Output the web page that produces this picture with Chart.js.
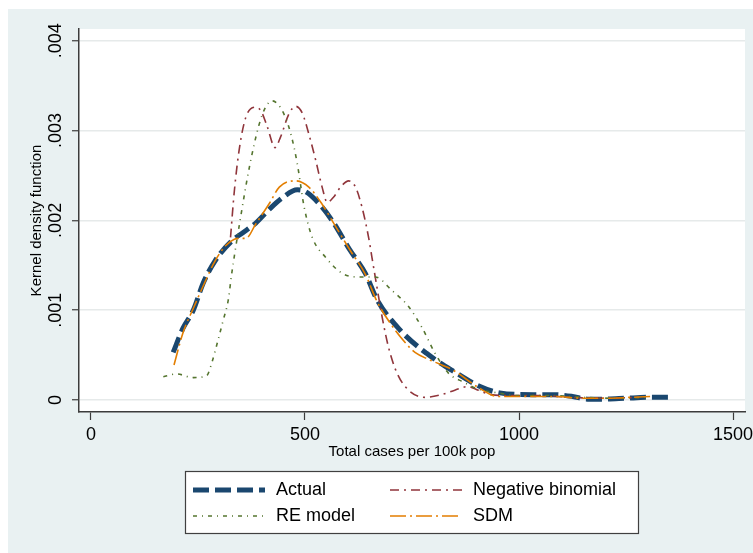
<!DOCTYPE html>
<html>
<head>
<meta charset="utf-8">
<script src="https://cdn.jsdelivr.net/npm/chart.js@4.4.0/dist/chart.umd.min.js"></script>
<style>
  html, body { margin: 0; padding: 0; background: #ffffff; }
  #kde { display: block; }
</style>
</head>
<body>
<canvas id="kde" width="753" height="553"></canvas>
<script>
// kernel density curves (x = total cases per 100k pop)
const actualX = [192, 215, 239, 262, 290, 331, 354, 385, 416, 447, 482, 501, 532, 563, 605, 641, 668, 722, 784, 847, 909, 955, 1033, 1080, 1125, 1160, 1200, 1250, 1300, 1348];
const actualY = [0.00053, 0.00080, 0.00100, 0.00130, 0.00155, 0.00178, 0.00186, 0.00197, 0.00212, 0.00225, 0.00234, 0.00232, 0.00219, 0.00200, 0.00167, 0.00141, 0.00112, 0.00078, 0.00052, 0.00032, 0.00015, 0.00008, 0.00006, 0.00006, 0.00004, 0.00001, 0.00001, 0.00002, 0.00003, 0.00003];

const negbinX = [326, 335, 347, 362, 384, 397, 412, 430, 443, 463, 478, 494, 509, 525, 540, 552, 567, 583, 602, 618, 633, 649, 656, 668, 680, 695, 715, 742, 781, 819, 850, 881, 905, 935, 980, 1050, 1120, 1200, 1280];
const negbinY = [0.00181, 0.00233, 0.00281, 0.00315, 0.00326, 0.00322, 0.00304, 0.00281, 0.00293, 0.00319, 0.00327, 0.00319, 0.00296, 0.00267, 0.00237, 0.00220, 0.00226, 0.00237, 0.00244, 0.00237, 0.00215, 0.00180, 0.00160, 0.00126, 0.00093, 0.00059, 0.00030, 0.00011, 0.00003, 0.00006, 0.00011, 0.00015, 0.00011, 0.00006, 0.00005, 0.00005, 0.00003, 0.00002, 0.00003];

const reX = [169, 200, 239, 270, 282, 297, 309, 321, 328, 347, 370, 393, 408, 423, 447, 467, 482, 498, 517, 548, 587, 626, 664, 703, 742, 773, 804, 835, 870, 906, 950, 1000, 1080, 1150, 1220, 1300];
const reY = [0.00026, 0.00029, 0.00025, 0.00027, 0.00041, 0.00067, 0.00089, 0.00112, 0.00138, 0.00196, 0.00259, 0.00307, 0.00326, 0.00333, 0.00322, 0.00296, 0.00263, 0.00215, 0.00181, 0.00159, 0.00141, 0.00137, 0.00137, 0.00122, 0.00104, 0.00081, 0.00052, 0.00030, 0.00020, 0.00012, 0.00008, 0.00005, 0.00005, 0.00003, 0.00002, 0.00003];

const sdmX = [194, 215, 240, 265, 290, 315, 335, 350, 362, 385, 417, 440, 478, 509, 540, 563, 605, 641, 668, 700, 734, 757, 790, 847, 905, 951, 1000, 1080, 1150, 1200, 1260, 1310];
const sdmY = [0.00039, 0.00075, 0.00103, 0.00130, 0.00155, 0.00172, 0.00179, 0.00180, 0.00180, 0.00196, 0.00219, 0.00237, 0.00244, 0.00237, 0.00218, 0.00200, 0.00167, 0.00140, 0.00110, 0.00085, 0.00064, 0.00053, 0.00045, 0.00033, 0.00014, 0.00004, 0.00004, 0.00004, 0.00002, 0.00002, 0.00003, 0.00004];

const xTicks = [0, 500, 1000, 1500];
const xTickLabels = ["0", "500", "1000", "1500"];
const yTicks = [0, 0.001, 0.002, 0.003, 0.004];
const yTickLabels = ["0", ".001", ".002", ".003", ".004"];

const FONT = "'Liberation Sans', Arial, sans-serif";
const AXIS = "#3c3c3c";

const toPoints = (xs, ys) => xs.map((x, i) => ({ x: x, y: ys[i] }));

// background: white margin, bluish-gray graph region, white plot region
const backdrop = {
  id: "backdrop",
  beforeDraw(chart) {
    const { ctx, chartArea: a } = chart;
    ctx.save();
    ctx.fillStyle = "#ffffff";
    ctx.fillRect(0, 0, chart.width, chart.height);
    ctx.fillStyle = "#e9f1f2";
    ctx.fillRect(8, 9, chart.width - 8, chart.height - 9);
    ctx.fillStyle = "#ffffff";
    ctx.fillRect(a.left, a.top, a.right - a.left, a.bottom - a.top);
    ctx.restore();
  },
};

// vertical y tick labels like Stata's
const yLabels = {
  id: "yLabels",
  afterDraw(chart) {
    const { ctx } = chart;
    const ys = chart.scales.y;
    ctx.save();
    ctx.fillStyle = "#000";
    ctx.font = "18px " + FONT;
    ctx.textAlign = "center";
    ctx.textBaseline = "middle";
    yTicks.forEach((v, i) => {
      ctx.save();
      ctx.translate(56, ys.getPixelForValue(v));
      ctx.rotate(-Math.PI / 2);
      ctx.fillText(yTickLabels[i], 0, 0);
      ctx.restore();
    });
    ctx.restore();
  },
};

// two-column boxed legend under the plot
const boxLegend = {
  id: "boxLegend",
  afterDraw(chart) {
    const { ctx } = chart;
    const ds = chart.data.datasets;
    ctx.save();
    ctx.fillStyle = "#ffffff";
    ctx.fillRect(185, 471, 453, 62);
    ctx.strokeStyle = "#404040";
    ctx.lineWidth = 1.2;
    ctx.strokeRect(185.5, 471.5, 453, 62);
    const slots = [
      { lx: 193, tx: 276, y: 490 },
      { lx: 390, tx: 473, y: 490 },
      { lx: 193, tx: 276, y: 516 },
      { lx: 390, tx: 473, y: 516 },
    ];
    ds.forEach((d, i) => {
      const s = slots[i];
      ctx.beginPath();
      ctx.setLineDash(d.borderDash || []);
      ctx.lineWidth = d.borderWidth;
      ctx.strokeStyle = d.borderColor;
      ctx.lineCap = "butt";
      ctx.moveTo(s.lx, s.y);
      ctx.lineTo(s.lx + 72, s.y);
      ctx.stroke();
      ctx.setLineDash([]);
      ctx.fillStyle = "#000";
      ctx.font = "18px " + FONT;
      ctx.textAlign = "left";
      ctx.textBaseline = "middle";
      ctx.fillText(d.label, s.tx, s.y);
    });
    ctx.restore();
  },
};

new Chart(document.getElementById("kde"), {
  type: "line",
  data: {
    datasets: [
      {
        label: "Actual",
        data: toPoints(actualX, actualY),
        borderColor: "#1a476f",
        borderWidth: 5,
        borderDash: [16, 6],
        order: 3,
      },
      {
        label: "Negative binomial",
        data: toPoints(negbinX, negbinY),
        borderColor: "#90353b",
        borderWidth: 1.6,
        borderDash: [9, 5, 2, 5],
        order: 2,
      },
      {
        label: "RE model",
        data: toPoints(reX, reY),
        borderColor: "#55752f",
        borderWidth: 1.6,
        borderDash: [4, 5, 1, 5],
        order: 1,
      },
      {
        label: "SDM",
        data: toPoints(sdmX, sdmY),
        borderColor: "#e37e00",
        borderWidth: 1.6,
        borderDash: [16, 4, 2, 4],
        order: 0,
      },
    ],
  },
  options: {
    responsive: false,
    animation: false,
    events: [],
    datasets: {
      line: {
        pointRadius: 0,
        cubicInterpolationMode: "monotone",
        borderCapStyle: "butt",
        fill: false,
      },
    },
    layout: { padding: { top: 29, right: 8, left: 0, bottom: 0 } },
    plugins: {
      legend: { display: false },
      tooltip: { enabled: false },
    },
    scales: {
      x: {
        type: "linear",
        min: -28,
        max: 1528,
        afterBuildTicks: (s) => {
          s.ticks = xTicks.map((v) => ({ value: v }));
        },
        afterFit: (s) => {
          s.height = 141;
          s.paddingLeft = 0;
          s.paddingRight = 0;
        },
        grid: { drawOnChartArea: false, tickLength: 8, tickColor: AXIS, tickWidth: 1.2 },
        border: { color: AXIS, width: 1.5 },
        ticks: {
          color: "#000",
          font: { family: FONT, size: 18 },
          padding: 4,
          maxRotation: 0,
          autoSkip: false,
          callback: (v) => xTickLabels[xTicks.indexOf(v)],
        },
        title: {
          display: true,
          text: "Total cases per 100k pop",
          color: "#000",
          font: { family: FONT, size: 15 },
          padding: { bottom: 92 },
        },
      },
      y: {
        type: "linear",
        min: -0.000133,
        max: 0.00413,
        afterBuildTicks: (s) => {
          s.ticks = yTicks.map((v) => ({ value: v }));
        },
        afterFit: (s) => {
          s.width = 79;
          s.paddingTop = 0;
          s.paddingBottom = 0;
        },
        grid: { color: "#e6eaea", lineWidth: 1.5, tickLength: 7, tickColor: AXIS, tickWidth: 1.2 },
        border: { color: AXIS, width: 1.5 },
        ticks: { display: false },
        title: {
          display: true,
          text: "Kernel density function",
          color: "#000",
          font: { family: FONT, size: 15 },
          padding: { top: 28 },
        },
      },
    },
  },
  plugins: [backdrop, yLabels, boxLegend],
});
</script>
</body>
</html>
